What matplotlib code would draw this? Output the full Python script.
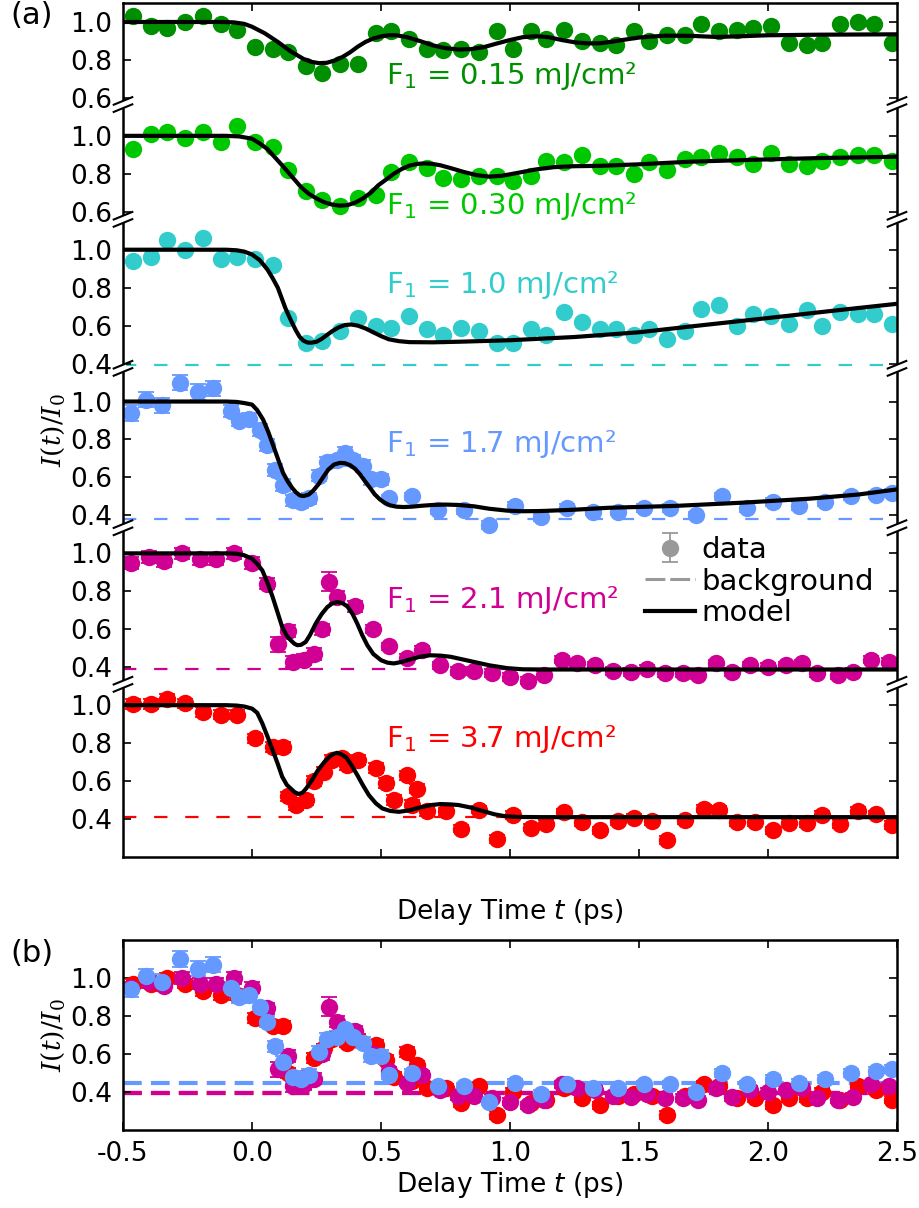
import numpy as np
import matplotlib
matplotlib.use("Agg")
import matplotlib.pyplot as plt
from matplotlib.lines import Line2D

plt.rcParams["font.family"] = ["DejaVu Sans"]
plt.rcParams["axes.unicode_minus"] = False
plt.rcParams["mathtext.fontset"] = "dejavusans"

# ============================================================
# 数据
# ============================================================
# coarse delay grid shared by the three low-fluence scans
T_COARSE = [-0.46, -0.39, -0.33, -0.26, -0.19, -0.12, -0.06, 0.01, 0.08, 0.14,
            0.21, 0.27, 0.34, 0.41, 0.48, 0.54, 0.61, 0.68, 0.74, 0.81,
            0.88, 0.95, 1.01, 1.08, 1.14, 1.21, 1.28, 1.35, 1.41, 1.48,
            1.54, 1.61, 1.68, 1.74, 1.81, 1.88, 1.94, 2.01, 2.08, 2.15,
            2.21, 2.28, 2.35, 2.41, 2.48]

V_015 = [1.03, 0.98, 0.97, 1.00, 1.03, 0.99, 0.96, 0.87, 0.86, 0.84,
         0.77, 0.73, 0.78, 0.78, 0.94, 0.95, 0.91, 0.86, 0.85, 0.86,
         0.84, 0.95, 0.86, 0.95, 0.91, 0.96, 0.90, 0.89, 0.88, 0.95,
         0.90, 0.93, 0.93, 0.99, 0.95, 0.96, 0.97, 0.98, 0.89, 0.88,
         0.89, 0.99, 1.00, 0.99, 0.89]

V_030 = [0.93, 1.01, 1.02, 0.99, 1.02, 0.97, 1.05, 0.97, 0.94, 0.82,
         0.71, 0.66, 0.63, 0.67, 0.69, 0.81, 0.86, 0.83, 0.78, 0.77,
         0.79, 0.79, 0.76, 0.79, 0.87, 0.86, 0.90, 0.84, 0.84, 0.80,
         0.86, 0.82, 0.88, 0.89, 0.91, 0.89, 0.85, 0.91, 0.85, 0.84,
         0.87, 0.89, 0.90, 0.90, 0.87]

V_10 = [0.94, 0.96, 1.05, 1.00, 1.06, 0.95, 0.96, 0.95, 0.92, 0.64,
        0.51, 0.52, 0.57, 0.64, 0.60, 0.59, 0.65, 0.58, 0.55, 0.59,
        0.57, 0.51, 0.51, 0.58, 0.55, 0.67, 0.62, 0.58, 0.58, 0.55,
        0.58, 0.53, 0.57, 0.69, 0.71, 0.60, 0.66, 0.65, 0.61, 0.68,
        0.60, 0.67, 0.66, 0.66, 0.61]

T_17 = [-0.47, -0.41, -0.35, -0.28, -0.21, -0.15, -0.08, -0.05, -0.01, 0.03,
        0.06, 0.09, 0.12, 0.16, 0.19, 0.22, 0.26, 0.29, 0.33, 0.36,
        0.39, 0.43, 0.46, 0.50, 0.53, 0.62, 0.72, 0.82, 0.92, 1.02,
        1.12, 1.22, 1.32, 1.42, 1.52, 1.62, 1.72, 1.82, 1.92, 2.02,
        2.12, 2.22, 2.32, 2.42, 2.48]
V_17 = [0.94, 1.01, 0.98, 1.10, 1.05, 1.07, 0.95, 0.90, 0.91, 0.85,
        0.77, 0.64, 0.56, 0.48, 0.47, 0.49, 0.61, 0.68, 0.69, 0.73,
        0.69, 0.66, 0.59, 0.59, 0.49, 0.50, 0.43, 0.43, 0.35, 0.45,
        0.39, 0.44, 0.42, 0.42, 0.44, 0.44, 0.40, 0.50, 0.44, 0.47,
        0.45, 0.47, 0.50, 0.51, 0.52]
E_17 = [0.04, 0.04, 0.04, 0.04, 0.04, 0.04, 0.03, 0.03, 0.03, 0.03,
        0.03, 0.03, 0.03, 0.03, 0.03, 0.03, 0.03, 0.03, 0.03, 0.03,
        0.03, 0.03, 0.03, 0.03, 0.02, 0.02, 0.02, 0.02, 0.02, 0.02,
        0.02, 0.02, 0.02, 0.02, 0.02, 0.02, 0.02, 0.02, 0.02, 0.02,
        0.02, 0.02, 0.02, 0.02, 0.02]

T_21 = [-0.47, -0.40, -0.34, -0.27, -0.20, -0.14, -0.07, 0.00, 0.06, 0.10,
        0.14, 0.16, 0.20, 0.24, 0.27, 0.30, 0.33, 0.40, 0.47, 0.53,
        0.60, 0.66, 0.73, 0.80, 0.86, 0.93, 1.00, 1.07, 1.13, 1.20,
        1.26, 1.33, 1.40, 1.47, 1.53, 1.60, 1.67, 1.73, 1.80, 1.86,
        1.93, 2.00, 2.07, 2.13, 2.19, 2.27, 2.33, 2.40, 2.47]
V_21 = [0.95, 0.98, 0.96, 1.00, 0.97, 0.97, 1.00, 0.95, 0.84, 0.52,
        0.59, 0.43, 0.44, 0.47, 0.60, 0.85, 0.77, 0.72, 0.60, 0.51,
        0.45, 0.49, 0.41, 0.38, 0.38, 0.37, 0.35, 0.33, 0.36, 0.44,
        0.42, 0.41, 0.38, 0.375, 0.39, 0.37, 0.37, 0.36, 0.42, 0.375,
        0.41, 0.40, 0.41, 0.42, 0.37, 0.36, 0.375, 0.44, 0.43]
E_21 = [0.03, 0.03, 0.03, 0.03, 0.03, 0.03, 0.03, 0.03, 0.03, 0.04,
        0.03, 0.03, 0.03, 0.03, 0.03, 0.05, 0.03, 0.03, 0.02, 0.02,
        0.02, 0.02, 0.02, 0.02, 0.02, 0.02, 0.02, 0.02, 0.02, 0.02,
        0.02, 0.02, 0.02, 0.02, 0.02, 0.02, 0.02, 0.02, 0.02, 0.02,
        0.02, 0.02, 0.02, 0.02, 0.02, 0.02, 0.02, 0.02, 0.02]

T_37 = [-0.46, -0.39, -0.33, -0.26, -0.19, -0.12, -0.06, 0.01, 0.08, 0.12,
        0.14, 0.17, 0.21, 0.24, 0.28, 0.31, 0.35, 0.37, 0.41, 0.48,
        0.52, 0.55, 0.60, 0.62, 0.64, 0.68, 0.75, 0.81, 0.88, 0.95,
        1.01, 1.08, 1.14, 1.21, 1.28, 1.35, 1.42, 1.48, 1.55, 1.61,
        1.68, 1.75, 1.81, 1.88, 1.95, 2.02, 2.08, 2.15, 2.21, 2.28,
        2.35, 2.42, 2.48]
V_37 = [1.005, 1.005, 1.035, 1.01, 0.965, 0.95, 0.95, 0.825, 0.78, 0.78,
        0.52, 0.475, 0.50, 0.60, 0.65, 0.71, 0.72, 0.685, 0.71, 0.67,
        0.59, 0.50, 0.63, 0.475, 0.56, 0.44, 0.44, 0.35, 0.45, 0.295,
        0.42, 0.355, 0.375, 0.435, 0.385, 0.34, 0.39, 0.405, 0.39, 0.29,
        0.395, 0.455, 0.45, 0.385, 0.385, 0.34, 0.38, 0.38, 0.42, 0.375,
        0.445, 0.425, 0.37]
# the 3.7 mJ/cm² scan as it sits in panel (b) (slightly lower there)
V_37_B = [0.97, 0.97, 1.00, 0.97, 0.93, 0.91, 0.91, 0.79, 0.75, 0.75,
          0.50, 0.46, 0.48, 0.58, 0.63, 0.68, 0.69, 0.66, 0.68, 0.65,
          0.57, 0.48, 0.61, 0.46, 0.54, 0.42, 0.42, 0.34, 0.43, 0.28,
          0.40, 0.34, 0.36, 0.42, 0.37, 0.33, 0.38, 0.39, 0.38, 0.28,
          0.38, 0.44, 0.43, 0.37, 0.37, 0.33, 0.37, 0.37, 0.40, 0.36,
          0.43, 0.41, 0.36]
E_37 = [0.025, 0.025, 0.025, 0.025, 0.025, 0.025, 0.025, 0.025, 0.025, 0.025,
        0.025, 0.025, 0.025, 0.025, 0.025, 0.025, 0.025, 0.025, 0.025, 0.025,
        0.025, 0.025, 0.025, 0.025, 0.025, 0.025, 0.02, 0.02, 0.02, 0.02,
        0.02, 0.02, 0.02, 0.02, 0.02, 0.02, 0.02, 0.02, 0.02, 0.02,
        0.02, 0.02, 0.02, 0.02, 0.02, 0.02, 0.02, 0.02, 0.02, 0.02,
        0.02, 0.02, 0.02]

# model curves
M_T_015 = [-0.5, -0.12, -0.07, -0.03, 0.0, 0.05, 0.1, 0.15, 0.2, 0.23, 0.26,
           0.29, 0.32, 0.35, 0.38, 0.41, 0.44, 0.47, 0.5, 0.53, 0.56, 0.6,
           0.65, 0.7, 0.75, 0.8, 0.85, 0.9, 0.95, 1.0, 1.05, 1.1, 1.15, 1.2,
           1.25, 1.3, 1.35, 1.4, 1.45, 1.5, 1.6, 1.7, 1.8, 1.9, 2.0, 2.2, 2.5]
M_V_015 = [1.0, 1.0, 0.998, 0.99, 0.975, 0.94, 0.895, 0.845, 0.805, 0.79,
           0.783, 0.785, 0.797, 0.815, 0.84, 0.87, 0.895, 0.913, 0.924, 0.93,
           0.93, 0.92, 0.90, 0.877, 0.862, 0.855, 0.857, 0.868, 0.887, 0.905,
           0.92, 0.925, 0.92, 0.905, 0.893, 0.887, 0.888, 0.897, 0.908, 0.918,
           0.928, 0.927, 0.921, 0.925, 0.93, 0.933, 0.935]

M_T_030 = [-0.5, -0.1, -0.05, 0.0, 0.03, 0.06, 0.09, 0.12, 0.155, 0.19, 0.22,
           0.25, 0.28, 0.31, 0.34, 0.37, 0.4, 0.43, 0.46, 0.49, 0.52, 0.55,
           0.58, 0.61, 0.64, 0.67, 0.7, 0.73, 0.77, 0.82, 0.87, 0.92, 0.97,
           1.03, 1.1, 1.17, 1.25, 1.35, 1.5, 1.7, 1.95, 2.2, 2.5]
M_V_030 = [1.0, 1.0, 0.997, 0.985, 0.96, 0.93, 0.885, 0.84, 0.785, 0.73, 0.695,
           0.67, 0.65, 0.638, 0.632, 0.635, 0.648, 0.67, 0.70, 0.74, 0.77,
           0.80, 0.825, 0.843, 0.852, 0.855, 0.852, 0.845, 0.83, 0.81, 0.793,
           0.785, 0.79, 0.805, 0.823, 0.835, 0.84, 0.842, 0.85, 0.864, 0.874,
           0.883, 0.89]

M_T_10 = [-0.5, -0.1, -0.06, -0.03, 0.0, 0.03, 0.06, 0.08, 0.1, 0.115, 0.13,
          0.15, 0.17, 0.185, 0.2, 0.215, 0.23, 0.25, 0.27, 0.29, 0.31, 0.335,
          0.36, 0.385, 0.41, 0.44, 0.47, 0.5, 0.53, 0.57, 0.61, 0.7, 0.8, 1.0,
          1.25, 1.5, 1.75, 2.0, 2.25, 2.5]
M_V_10 = [1.0, 1.0, 0.997, 0.99, 0.975, 0.945, 0.895, 0.85, 0.80, 0.745, 0.69,
          0.63, 0.575, 0.54, 0.52, 0.511, 0.51, 0.515, 0.53, 0.55, 0.57, 0.59,
          0.603, 0.606, 0.60, 0.585, 0.565, 0.545, 0.528, 0.518, 0.513, 0.512,
          0.515, 0.523, 0.54, 0.565, 0.603, 0.64, 0.678, 0.715]

M_T_17 = [-0.5, -0.1, -0.06, -0.03, 0.0, 0.02, 0.043, 0.063, 0.083, 0.1, 0.12,
          0.138, 0.155, 0.17, 0.186, 0.2, 0.22, 0.237, 0.257, 0.275, 0.296,
          0.318, 0.341, 0.36, 0.38, 0.4, 0.419, 0.437, 0.457, 0.475, 0.496,
          0.515, 0.535, 0.56, 0.587, 0.62, 0.65, 0.7, 0.75, 0.8, 0.86, 0.92,
          0.99, 1.05, 1.12, 1.25, 1.38, 1.64, 1.9, 2.16, 2.35, 2.5]
M_V_17 = [1.0, 1.0, 0.998, 0.992, 0.984, 0.955, 0.905, 0.84, 0.765, 0.70,
          0.625, 0.58, 0.546, 0.522, 0.505, 0.502, 0.51, 0.53, 0.563, 0.60,
          0.642, 0.668, 0.677, 0.675, 0.665, 0.645, 0.616, 0.582, 0.546, 0.512,
          0.484, 0.466, 0.453, 0.446, 0.444, 0.446, 0.45, 0.455, 0.457, 0.455,
          0.448, 0.435, 0.425, 0.422, 0.423, 0.43, 0.44, 0.45, 0.467, 0.488,
          0.51, 0.537]

M_T_21 = [-0.5, -0.1, -0.06, -0.03, 0.0, 0.02, 0.04, 0.06, 0.08, 0.1, 0.117,
          0.135, 0.15, 0.165, 0.176, 0.19, 0.208, 0.225, 0.247, 0.27, 0.292,
          0.31, 0.33, 0.35, 0.37, 0.39, 0.408, 0.427, 0.447, 0.47, 0.5, 0.525,
          0.55, 0.58, 0.61, 0.65, 0.69, 0.73, 0.77, 0.8, 0.86, 0.92, 0.99,
          1.05, 1.12, 2.5]
M_V_21 = [1.0, 1.0, 0.998, 0.99, 0.972, 0.945, 0.91, 0.845, 0.77, 0.685,
          0.612, 0.565, 0.542, 0.523, 0.516, 0.518, 0.533, 0.57, 0.63, 0.68,
          0.717, 0.735, 0.744, 0.738, 0.72, 0.68, 0.63, 0.57, 0.516, 0.47,
          0.437, 0.424, 0.42, 0.428, 0.44, 0.455, 0.463, 0.461, 0.455, 0.446,
          0.428, 0.41, 0.395, 0.389, 0.388, 0.388]

M_T_37 = [-0.5, -0.1, -0.06, -0.03, 0.0, 0.02, 0.04, 0.06, 0.08, 0.1, 0.117,
          0.135, 0.15, 0.165, 0.18, 0.195, 0.21, 0.23, 0.256, 0.28, 0.3,
          0.315, 0.33, 0.345, 0.365, 0.385, 0.408, 0.43, 0.453, 0.48, 0.505,
          0.535, 0.57, 0.61, 0.65, 0.69, 0.73, 0.77, 0.8, 0.85, 0.89, 0.94,
          0.98, 1.03, 1.12, 2.5]
M_V_37 = [1.0, 1.0, 0.998, 0.993, 0.982, 0.96, 0.904, 0.835, 0.763, 0.69,
          0.623, 0.58, 0.561, 0.542, 0.532, 0.538, 0.561, 0.60, 0.658, 0.70,
          0.728, 0.743, 0.749, 0.742, 0.725, 0.685, 0.632, 0.578, 0.526, 0.483,
          0.456, 0.443, 0.438, 0.446, 0.461, 0.473, 0.479, 0.477, 0.474, 0.46,
          0.444, 0.425, 0.415, 0.411, 0.41, 0.41]

# background levels
BG_A = [None, None, 0.39, 0.38, 0.39, 0.41]       # panel (a)
BG_B = [0.45, 0.395, 0.395]                         # panel (b): 1.7, 2.1, 3.7

FLUENCE_LABELS = ["F$_1$ = 0.15 mJ/cm²", "F$_1$ = 0.30 mJ/cm²",
                  "F$_1$ = 1.0 mJ/cm²", "F$_1$ = 1.7 mJ/cm²",
                  "F$_1$ = 2.1 mJ/cm²", "F$_1$ = 3.7 mJ/cm²"]
LABEL_Y = [0.674, 0.586, 0.774, 0.732, 0.711, 0.779]
COLORS = ["#008f00", "#00c800", "#33cccc", "#6699ff", "#d10094", "#ff0000"]

OFFSETS = [3.6, 3.0, 2.4, 1.6, 0.8, 0.0]
LOCAL_TICKS = [[0.6, 0.8, 1.0], [0.6, 0.8, 1.0], [0.4, 0.6, 0.8, 1.0],
               [0.4, 0.6, 0.8, 1.0], [0.4, 0.6, 0.8, 1.0], [0.4, 0.6, 0.8, 1.0]]
BREAKS = [4.165, 3.56, 2.775, 1.935, 1.11]

# ============================================================
# 作图
# ============================================================
FS = 19
MS = 12.5
W, H = 920, 1208
fig = plt.figure(figsize=(W / 100, H / 100), dpi=100)

ax = fig.add_axes([123 / W, 1 - 857 / H, 774 / W, 854 / H])
axb = fig.add_axes([123 / W, 1 - 1130 / H, 774 / W, 190 / H])

series = [
    (T_COARSE, V_015, None, M_T_015, M_V_015),
    (T_COARSE, V_030, None, M_T_030, M_V_030),
    (T_COARSE, V_10, None, M_T_10, M_V_10),
    (T_17, V_17, E_17, M_T_17, M_V_17),
    (T_21, V_21, E_21, M_T_21, M_V_21),
    (T_37, V_37, E_37, M_T_37, M_V_37),
]

for i, (t, v, e, mt, mv) in enumerate(series):
    off = OFFSETS[i]
    c = COLORS[i]
    y = np.array(v) + off
    if BG_A[i] is not None:
        ax.axhline(BG_A[i] + off, color=c, lw=1.6, dashes=(6, 8), zorder=1)
    if e is None:
        ax.plot(t, y, "o", ms=MS, color=c, mec="none", zorder=2)
    else:
        ax.errorbar(t, y, yerr=e, fmt="o", ms=MS, color=c, mec="none",
                    capsize=5.5, elinewidth=1.3, capthick=1.3, zorder=2)
    ax.plot(mt, np.array(mv) + off, "-", color="black", lw=3, zorder=3,
            solid_joinstyle="round")
    ax.text(0.52, LABEL_Y[i] + off, FLUENCE_LABELS[i], color=c,
            fontsize=21, va="baseline", ha="left")

ax.set_xlim(-0.5, 2.5)
ax.set_ylim(0.2, 4.7)

yt, yl = [], []
for off, loc in zip(OFFSETS, LOCAL_TICKS):
    for v in loc:
        yt.append(round(off + v, 2))
        yl.append(f"{v:.1f}")
ax.set_yticks(yt)
ax.set_yticklabels(yl)
ax.set_xticks([0.0, 0.5, 1.0, 1.5, 2.0])
ax.set_xticklabels([])
ax.tick_params(direction="in", length=6, width=1.2, top=True, right=True,
               labelsize=FS, pad=8)
for s in ax.spines.values():
    s.set_linewidth(1.8)
ax.set_xlabel("Delay Time $t$ (ps)", fontsize=FS, labelpad=21)
ax.set_ylabel("$I(t)/I_0$", fontsize=FS, math_fontfamily="dejavuserif",
              labelpad=2)


def break_mark(a, yb, x0):
    dx, dy, g = 0.012, 0.02, 0.019
    tr = a.get_yaxis_transform()
    k = dy * 0.004 / dx
    a.fill([x0 - 0.004, x0 + 0.004, x0 + 0.004, x0 - 0.004],
           [yb - g - k, yb - g + k, yb + g + k, yb + g - k],
           color="white", transform=tr, clip_on=False, zorder=10, lw=0)
    for s in (-g, g):
        a.plot([x0 - dx, x0 + dx], [yb + s - dy, yb + s + dy], color="black",
               lw=1.5, transform=tr, clip_on=False, zorder=11)


for yb in BREAKS:
    break_mark(ax, yb, 0.0)
    break_mark(ax, yb, 1.0)

# legend
h_data = ax.errorbar([np.nan], [np.nan], yerr=[0.03], fmt="o", ms=MS,
                     color="#999999", mec="none", capsize=5.5, elinewidth=1.3,
                     capthick=1.3)
h_bg = Line2D([], [], color="#999999", lw=2.2, dashes=(6.5, 1.6))
h_model = Line2D([], [], color="black", lw=3)
ax.legend([h_data, h_bg, h_model], ["data", "background", "model"],
          loc="upper left", bbox_to_anchor=(645 / W, 1 - 536 / H),
          bbox_transform=fig.transFigure, frameon=False, fontsize=21,
          handlelength=1.7, handletextpad=0.25, labelspacing=0.12,
          borderpad=0, borderaxespad=0)

# ---- panel (b) ----
B_SETS = [(T_37, V_37_B, E_37), (T_21, V_21, E_21), (T_17, V_17, E_17)]
B_COLORS = [COLORS[5], COLORS[4], COLORS[3]]
B_BG = [BG_B[2], BG_B[1], BG_B[0]]
for c, bg in zip(B_COLORS, B_BG):
    axb.axhline(bg, color=c, lw=3, dashes=(4.5, 2.2), zorder=1)
for (t, v, e), c in zip(B_SETS, B_COLORS):
    axb.errorbar(t, v, yerr=e, fmt="o", ms=MS, color=c, mec="none",
                 capsize=5.5, elinewidth=1.3, capthick=1.3, zorder=2)

axb.set_xlim(-0.5, 2.5)
axb.set_ylim(0.2, 1.2)
axb.set_yticks([0.4, 0.6, 0.8, 1.0])
axb.set_xticks([-0.5, 0.0, 0.5, 1.0, 1.5, 2.0, 2.5])
axb.set_xticklabels(["-0.5", "0.0", "0.5", "1.0", "1.5", "2.0", "2.5"])
axb.tick_params(direction="in", length=6, width=1.2, top=True, right=True,
                labelsize=FS, pad=8)
for s in axb.spines.values():
    s.set_linewidth(1.8)
axb.set_xlabel("Delay Time $t$ (ps)", fontsize=FS, labelpad=2)
axb.set_ylabel("$I(t)/I_0$", fontsize=FS, math_fontfamily="dejavuserif",
               labelpad=2)

fig.text(10 / W, 1 - 16 / H, "(a)", fontsize=22, va="center", ha="left")
fig.text(10 / W, 1 - 953 / H, "(b)", fontsize=22, va="center", ha="left")

fig.savefig("out.png", dpi=100)
